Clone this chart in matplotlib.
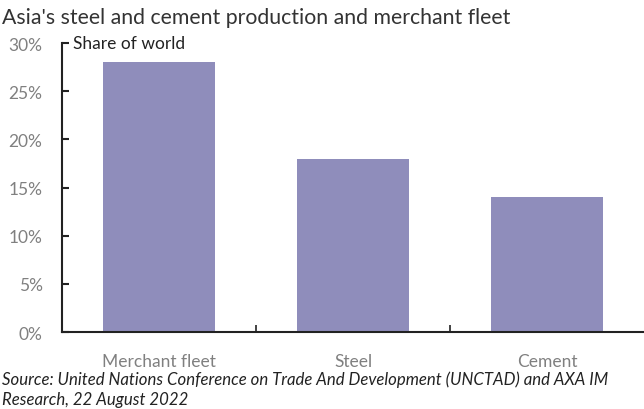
import matplotlib
matplotlib.use("Agg")
import matplotlib.pyplot as plt
from matplotlib.ticker import FuncFormatter, FixedLocator

categories = ["Merchant fleet", "Steel", "Cement"]
share = [28, 18, 14]
yticks = [0, 5, 10, 15, 20, 25, 30]

plt.rcParams['font.family'] = ['Lato', 'DejaVu Sans']

fig = plt.figure(figsize=(6.44, 4.10), dpi=100)
ax = fig.add_axes([62/644, 1-333/410, (644-62)/644, (333-44)/410])

x = list(range(len(categories)))
ax.bar(x, share, width=0.58, color="#8F8DBB", zorder=2)
ax.set_xlim(-0.5, len(categories) - 0.5)
ax.set_ylim(0, 30)

ax.set_yticks(yticks)
ax.yaxis.set_major_formatter(FuncFormatter(lambda v, p: f"{v:.0f}%"))
ax.tick_params(axis='y', direction='in', length=5, width=1.5, colors='#222222',
               labelcolor='#808080', labelsize=12.5, pad=14)
ax.set_xticks(x)
ax.set_xticklabels(categories)
ax.tick_params(axis='x', length=0, labelcolor='#808080', labelsize=12.5, pad=15)
ax.xaxis.set_minor_locator(FixedLocator([0.5, 1.5]))
ax.tick_params(axis='x', which='minor', direction='in', length=5, width=1.2, colors='#222222')

for s in ['top', 'right']:
    ax.spines[s].set_visible(False)
for s in ['left', 'bottom']:
    ax.spines[s].set_linewidth(1.5)
    ax.spines[s].set_color('#222222')

ax.text(0.019, 1.0, "Share of world", transform=ax.transAxes, fontsize=12.5,
        color='#222222', va='center', ha='left')

fig.text(2/644, 1-18/410, "Asia's steel and cement production and merchant fleet",
         fontsize=15.3, color='#333333', va='center', ha='left')
fig.text(2/644, 1-371/410,
         "Source: United Nations Conference on Trade And Development (UNCTAD) and AXA IM\nResearch, 22 August 2022",
         fontsize=12.1, style='italic', color='#222222', va='top', ha='left', linespacing=1.35)

fig.savefig("out.png", dpi=100)
